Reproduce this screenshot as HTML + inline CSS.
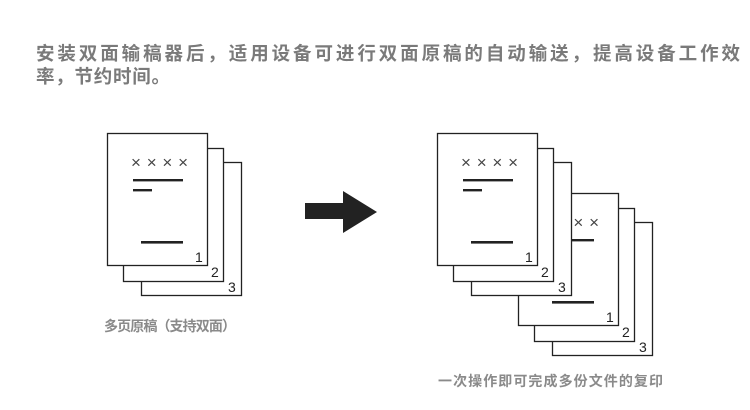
<!DOCTYPE html>
<html><head><meta charset="utf-8"><style>
html,body{margin:0;padding:0;background:#fff;width:750px;height:410px;overflow:hidden}
svg{display:block}
.t{font-family:"Liberation Sans","Noto Sans CJK SC",sans-serif}
</style></head><body>
<svg width="750" height="410" xmlns="http://www.w3.org/2000/svg">
<g class="t" fill="#7a7a7a" font-size="18.5" font-weight="bold">
<text x="36" y="60" textLength="704" lengthAdjust="spacing">安装双面输稿器后，适用设备可进行双面原稿的自动输送，提高设备工作效</text>
<text x="36" y="83" textLength="134" lengthAdjust="spacing">率，节约时间。</text>
</g>
<defs>
<g id="stack">
<rect x="141.5" y="162.5" width="100" height="133" fill="#fff" stroke="#222" stroke-width="1.3"/>
<rect x="123.5" y="148.5" width="100" height="133" fill="#fff" stroke="#222" stroke-width="1.3"/>
<rect x="107.5" y="133.5" width="100" height="132" fill="#fff" stroke="#222" stroke-width="1.3"/>
<text x="131" y="168" font-size="17" fill="#444" textLength="57" lengthAdjust="spacing" class="t">××××</text>
<rect x="133" y="179" width="50" height="2.4" fill="#222"/>
<rect x="133" y="189" width="19" height="2.4" fill="#222"/>
<rect x="141" y="241" width="42" height="2.6" fill="#222"/>
<g class="t" font-size="14" fill="#222">
<text x="195" y="262">1</text><text x="211" y="277">2</text><text x="228" y="292">3</text>
</g>
</g>
</defs>
<use href="#stack"/>
<g transform="translate(411,60)">
<use href="#stack"/>
</g>
<use href="#stack" transform="translate(330,0)"/>
<polygon points="305,203 343,203 343,191 377,212 343,233 343,219 305,219" fill="#222"/>
<g class="t" font-weight="bold" font-size="14" fill="#8a8a8a">
<text x="104" y="331" textLength="132" lengthAdjust="spacing">多页原稿（支持双面）</text>
<text x="438" y="386" textLength="225" lengthAdjust="spacing">一次操作即可完成多份文件的复印</text>
</g>
</svg>
</body></html>
